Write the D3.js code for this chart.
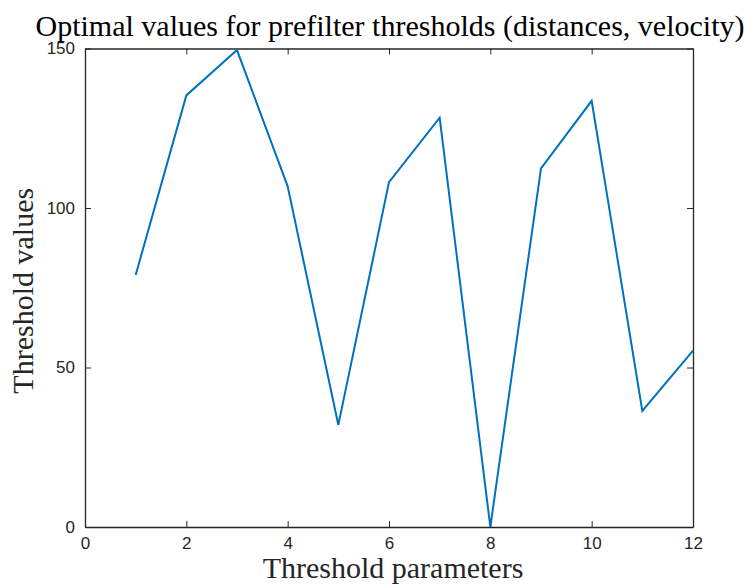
<!DOCTYPE html>
<html>
<head>
<meta charset="utf-8">
<script src="https://cdn.jsdelivr.net/npm/d3@7"></script>
<style>
  body { margin: 0; background: #fff; }
  .tick text { font-family: "Liberation Sans", Arial, sans-serif; font-size: 17px; fill: #262626; }
  .domain, .tick line { stroke: #262626; }
</style>
</head>
<body>
<div id="chart"></div>
<script>
// parameter index and the optimal threshold found for each
var params = [1, 2, 3, 4, 5, 6, 7, 8, 9, 10, 11, 12];
var thresholds = [79, 135.3, 149.5, 106.8, 32, 108.1, 128.3, 0, 112.4, 133.6, 36.4, 55.3];
var xTicks = [0, 2, 4, 6, 8, 10, 12];
var yTicks = [0, 50, 100, 150];

var width = 744, height = 585;
var margin = {top: 48.5, right: 51, bottom: 58, left: 85};
var innerW = width - margin.left - margin.right;
var innerH = height - margin.top - margin.bottom;

var svg = d3.select('#chart').append('svg')
    .attr('width', width)
    .attr('height', height);

var g = svg.append('g')
    .attr('transform', 'translate(' + margin.left + ',' + margin.top + ')');

var x = d3.scaleLinear().domain([0, 12]).range([0, innerW]);
var y = d3.scaleLinear().domain([0, 150]).range([innerH, 0]);

// bottom + left axes with labels, ticks pointing inward
g.append('g')
    .attr('transform', 'translate(0,' + innerH + ')')
    .call(d3.axisBottom(x).tickValues(xTicks).tickSizeInner(-6).tickSizeOuter(0).tickPadding(10))
    .call(function(a) { a.select('.domain').attr('stroke-width', 1.3); });

g.append('g')
    .call(d3.axisLeft(y).tickValues(yTicks).tickSizeInner(-6).tickSizeOuter(0).tickPadding(10))
    .call(function(a) { a.select('.domain').attr('stroke-width', 1.3); });

// top + right box lines, ticks only
g.append('g')
    .call(d3.axisTop(x).tickValues(xTicks).tickSizeInner(-6).tickSizeOuter(0).tickFormat(''))
    .call(function(a) { a.select('.domain').attr('stroke-width', 1.3); });

g.append('g')
    .attr('transform', 'translate(' + innerW + ',0)')
    .call(d3.axisRight(y).tickValues(yTicks).tickSizeInner(-6).tickSizeOuter(0).tickFormat(''))
    .call(function(a) { a.select('.domain').attr('stroke-width', 1.3); });

var line = d3.line()
    .x(function(d, i) { return x(params[i]); })
    .y(function(d) { return y(d); });

g.append('path')
    .datum(thresholds)
    .attr('d', line)
    .attr('fill', 'none')
    .attr('stroke', '#0072BD')
    .attr('stroke-width', 2);

// titles
var serif = '"Liberation Serif", "Times New Roman", serif';

svg.append('text')
    .attr('x', margin.left + innerW / 2 + 1)
    .attr('y', 36)
    .attr('text-anchor', 'middle')
    .style('font-family', serif)
    .style('font-size', '30px')
    .style('fill', '#000')
    .text('Optimal values for prefilter thresholds (distances, velocity)');

svg.append('text')
    .attr('x', margin.left + innerW / 2 + 4)
    .attr('y', 578)
    .attr('text-anchor', 'middle')
    .style('font-family', serif)
    .style('font-size', '30px')
    .style('fill', '#262626')
    .text('Threshold parameters');

svg.append('text')
    .attr('transform', 'translate(33,' + (margin.top + innerH / 2 + 3) + ') rotate(-90)')
    .attr('text-anchor', 'middle')
    .style('font-family', serif)
    .style('font-size', '30px')
    .style('fill', '#262626')
    .text('Threshold values');
</script>
</body>
</html>
